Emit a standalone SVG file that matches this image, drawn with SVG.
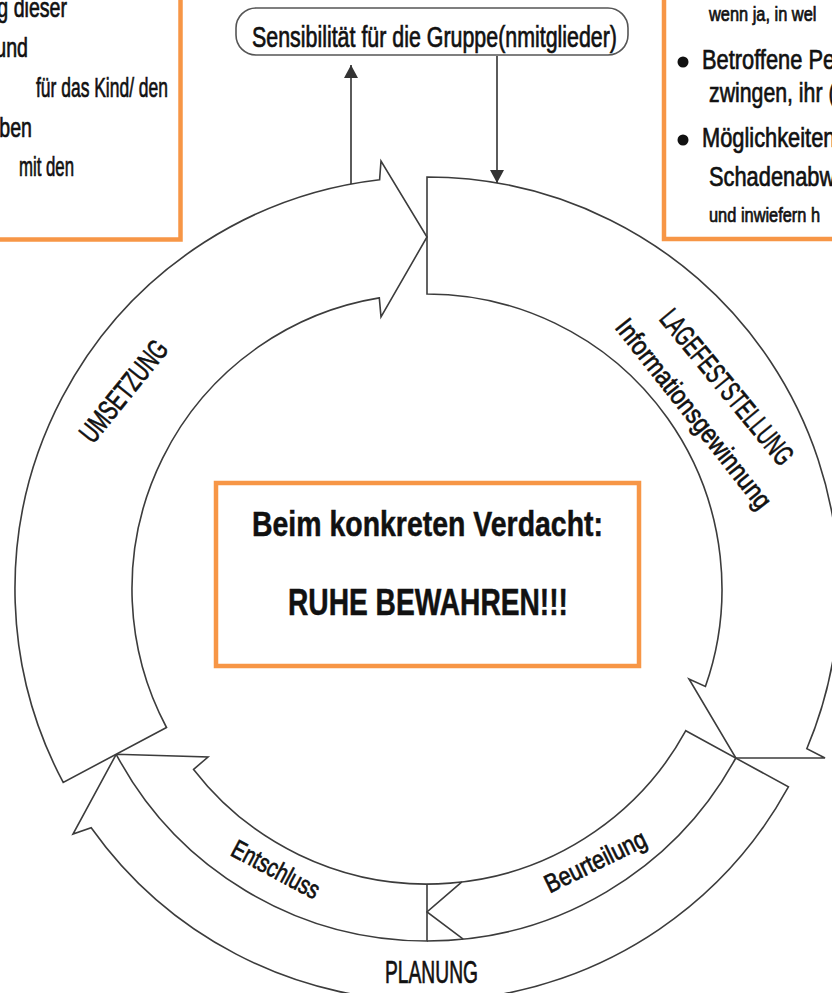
<svg xmlns="http://www.w3.org/2000/svg" width="832" height="993" viewBox="0 0 832 993">
  <defs>
    <style>
      .ring { fill: #ffffff; stroke: #3c3c3c; stroke-width: 1.6; stroke-linejoin: miter; }
      .line { fill: none; stroke: #3c3c3c; stroke-width: 1.6; }
      .box { fill: #ffffff; stroke: #f79646; stroke-width: 4.5; }
      .pill { fill: #ffffff; stroke: #555555; stroke-width: 1.6; }
      .txt { font-family: "Liberation Sans", Arial, sans-serif; fill: #111111; stroke: #111111; stroke-width: 0.7; }
      .bold { font-family: "Liberation Sans", Arial, sans-serif; font-weight: bold; fill: #111111; stroke: #111111; stroke-width: 0.5; }
      .conn { fill: none; stroke: #333333; stroke-width: 1.6; }
    </style>
    <marker id="head" viewBox="0 0 13 14" refX="13" refY="7" markerWidth="13" markerHeight="14" markerUnits="userSpaceOnUse" orient="auto">
      <path d="M0,0 L13,7 L0,14 z" fill="#333333"/>
    </marker>
  </defs>

  <rect width="832" height="993" fill="#ffffff"/>

  <!-- text box, upper left (cut by the page edge) -->
  <g id="box-left">
    <rect class="box" x="-10" y="-10" width="190.5" height="249.5"/>
    <text class="txt" font-size="28" text-anchor="end" transform="translate(67 17) scale(0.7 1)">g dieser</text>
    <text class="txt" font-size="28" text-anchor="end" transform="translate(28 57) scale(0.7 1)">und</text>
    <text class="txt" font-size="28" x="36" y="97" textLength="132" lengthAdjust="spacingAndGlyphs">für das Kind/ den</text>
    <text class="txt" font-size="28" text-anchor="end" transform="translate(32 137) scale(0.7 1)">ben</text>
    <text class="txt" font-size="28" text-anchor="end" transform="translate(74 176) scale(0.6 1)">mit den</text>
  </g>

  <!-- text box, upper right (cut by the page edge) -->
  <g id="box-right">
    <rect class="box" x="664" y="-10" width="200" height="249"/>
    <text class="txt" font-size="20" transform="translate(709 21) scale(0.82 1)">wenn ja, in wel</text>
    <circle cx="683" cy="62" r="5.5" fill="#111111"/>
    <text class="txt" font-size="28" transform="translate(702 69) scale(0.78 1)">Betroffene Pe</text>
    <text class="txt" font-size="28" transform="translate(709 102) scale(0.76 1)">zwingen, ihr (</text>
    <circle cx="683" cy="140" r="5.5" fill="#111111"/>
    <text class="txt" font-size="28" transform="translate(702 147) scale(0.78 1)">Möglichkeiten</text>
    <text class="txt" font-size="28" transform="translate(709 186) scale(0.78 1)">Schadenabwe</text>
    <text class="txt" font-size="20" transform="translate(709 222) scale(0.82 1)">und inwiefern h</text>
  </g>

  <!-- rounded label above the cycle -->
  <g id="sensibilitaet">
    <rect class="pill" x="236" y="8" width="392" height="47" rx="20" ry="20"/>
    <text class="txt" font-size="29" x="252" y="47" textLength="365" lengthAdjust="spacingAndGlyphs">Sensibilität für die Gruppe(nmitglieder)</text>
  </g>

  <!-- cycle: three ring arrows around centre (427,589) -->
  <g id="lagefeststellung">
    <path class="ring" d="M427,177 A412,412 0 0 1 806.8,748.7 L825,758 L735.8,758 L689,679 L705.4,686.5 A295,295 0 0 0 427,294 Z"/>
    <text class="txt" font-size="29" text-anchor="middle" x="0" y="10" textLength="192" lengthAdjust="spacingAndGlyphs" transform="translate(727 387) rotate(50.6)">LAGEFESTSTELLUNG</text>
    <text class="txt" font-size="27" text-anchor="middle" x="0" y="7" textLength="234" lengthAdjust="spacingAndGlyphs" transform="translate(692 415) rotate(51.7)">Informationsgewinnung</text>
  </g>

  <g id="planung">
    <path class="ring" d="M685.8,730.7 L788.4,786.9 A412,412 0 0 1 91.2,827.7 L73,834 L116.2,754.3 L208,757 L193.6,769.4 A295,295 0 0 0 685.8,730.7 Z"/>
    <text class="txt" font-size="31" x="385" y="983" textLength="93" lengthAdjust="spacingAndGlyphs">PLANUNG</text>
  </g>

  <g id="beurteilung">
    <path class="line" d="M735.8,758 A352,352 0 0 1 427,941"/>
    <path class="line" d="M461.9,881.9 L427,912 L463.2,939.1"/>
    <text class="txt" font-size="26" text-anchor="middle" x="0" y="7" textLength="110" lengthAdjust="spacingAndGlyphs" transform="translate(596 863) rotate(-26)">Beurteilung</text>
  </g>

  <g id="entschluss">
    <path class="line" d="M427,884 L427,941 A352,352 0 0 1 116.2,754.3"/>
    <text class="txt" font-size="26" text-anchor="middle" x="0" y="7" textLength="96" lengthAdjust="spacingAndGlyphs" transform="translate(275 871) rotate(28)">Entschluss</text>
  </g>

  <g id="umsetzung">
    <path class="ring" d="M166.5,727.5 L63.2,782.4 A412,412 0 0 1 379.6,179.7 L381,161 L427,237 L381,316.9 L379.3,297.9 A295,295 0 0 0 166.5,727.5 Z"/>
    <text class="txt" font-size="29" text-anchor="middle" x="0" y="10" textLength="122" lengthAdjust="spacingAndGlyphs" transform="translate(123.5 391) rotate(-51)">UMSETZUNG</text>
  </g>

  <!-- central message -->
  <g id="verdacht">
    <rect class="box" x="216" y="483" width="423" height="183"/>
    <text class="bold" font-size="35" x="252" y="536" textLength="351" lengthAdjust="spacingAndGlyphs">Beim konkreten Verdacht:</text>
    <text class="bold" font-size="37" x="288" y="615" textLength="280" lengthAdjust="spacingAndGlyphs">RUHE BEWAHREN!!!</text>
  </g>

  <!-- links between the cycle and the rounded label -->
  <g id="connectors">
    <line class="conn" x1="351" y1="184" x2="351" y2="65" marker-end="url(#head)"/>
    <line class="conn" x1="497" y1="56" x2="497" y2="183" marker-end="url(#head)"/>
  </g>
</svg>
